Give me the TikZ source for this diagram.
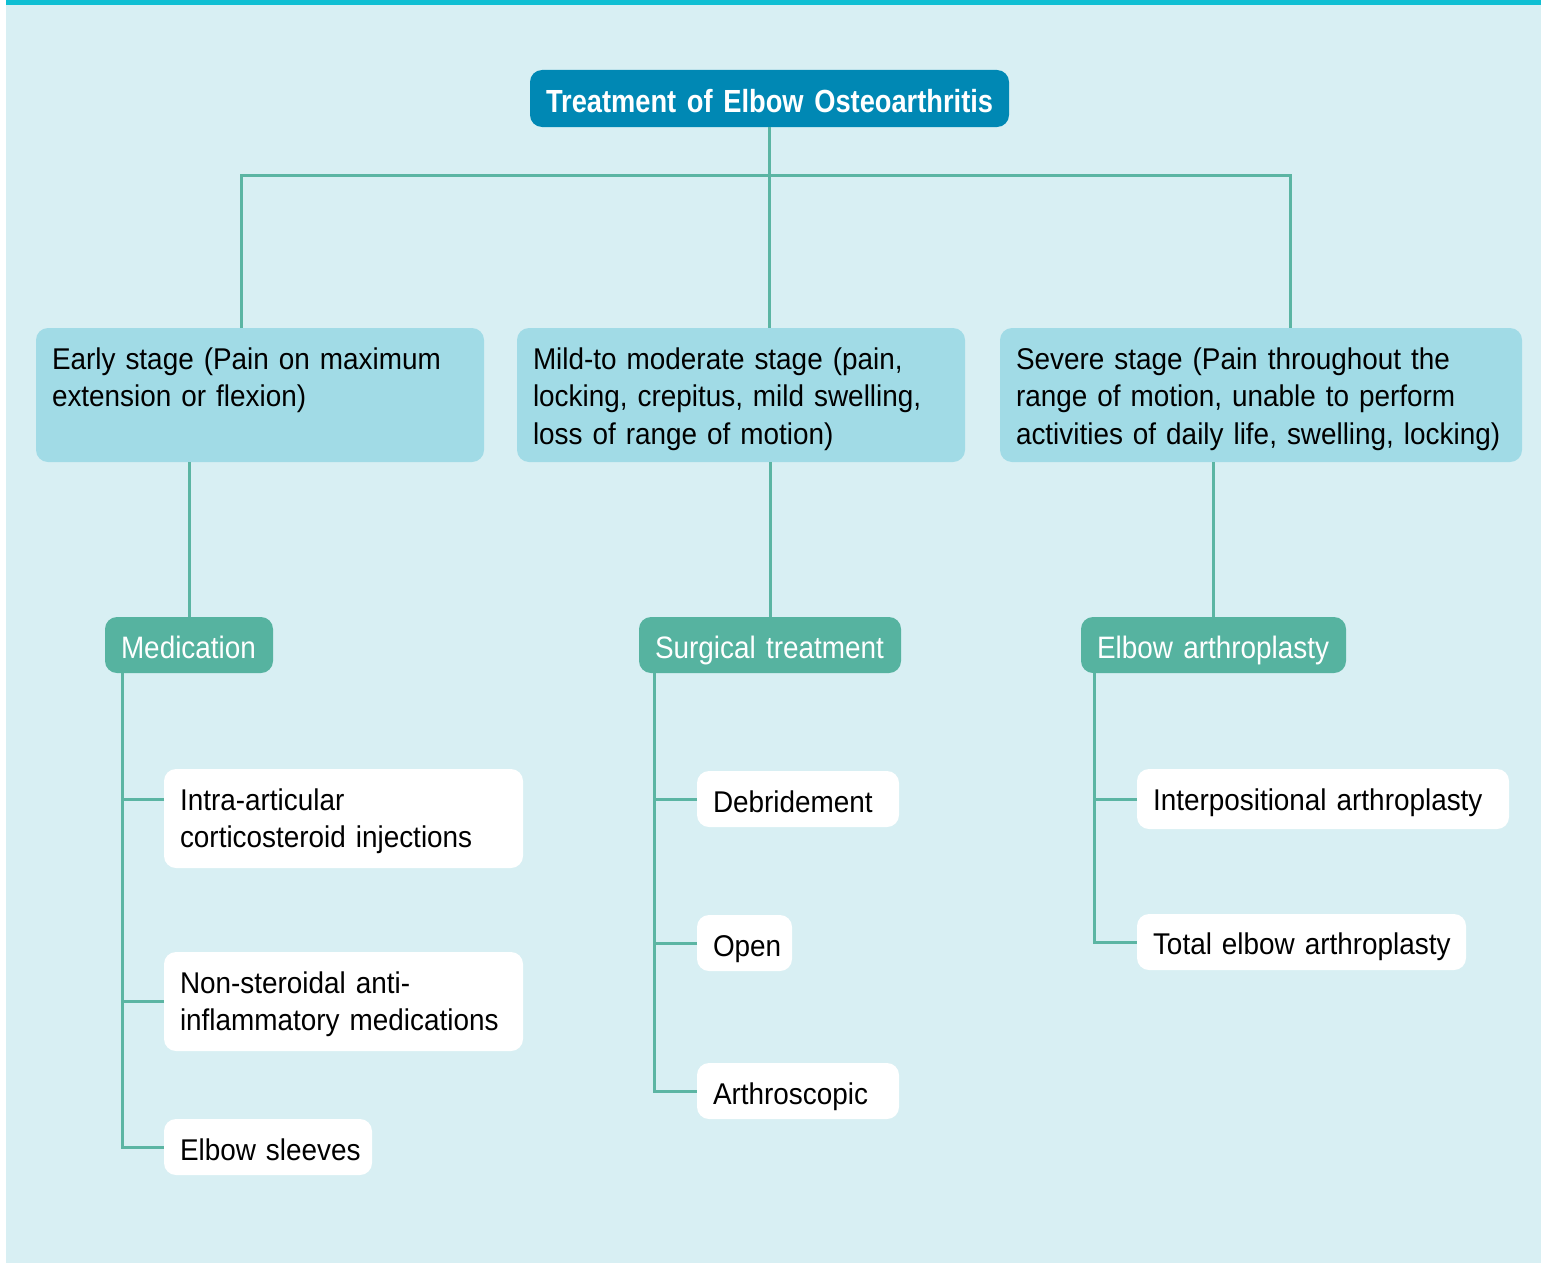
\documentclass[tikz,border=0pt]{standalone}
\usepackage{fontspec}
\setmainfont{Liberation Sans}[FakeStretch=0.93]
\newfontfamily\titlefont{Liberation Sans}[FakeStretch=0.852]
\newfontfamily\greenfont{Liberation Sans}[FakeStretch=0.90]
\definecolor{bgblue}{HTML}{D8EFF3}
\definecolor{topbar}{HTML}{0FBFD3}
\definecolor{titleblue}{HTML}{0088B4}
\definecolor{stageblue}{HTML}{A1DBE6}
\definecolor{greenbox}{HTML}{56B3A0}
\definecolor{linegreen}{HTML}{5BB5A3}
\begin{document}
\begin{tikzpicture}[x=1pt,y=-1pt,
  base/.style={anchor=north west, rounded corners=12pt, inner xsep=16pt, inner ysep=0pt, outer sep=0pt, align=left},
  titlebox/.style={base, fill=titleblue, text=white, font=\titlefont\bfseries\fontsize{32}{38}\selectfont},
  stagebox/.style={base, fill=stageblue, text=black, font=\fontsize{30}{37.8}\selectfont},
  greenbx/.style={base, fill=greenbox, text=white, font=\greenfont\fontsize{31}{37}\selectfont},
  whitebox/.style={base, fill=white, text=black, font=\fontsize{30}{37.2}\selectfont},
  conn/.style={draw=linegreen, line width=3pt}]
\useasboundingbox (0,0) rectangle (1544,1263);
\fill[white] (0,0) rectangle (1544,1263);
\fill[bgblue] (6,5) rectangle (1541,1263);
\fill[topbar] (6,0) rectangle (1541,5);

% title
\node[titlebox, minimum width=479pt, text width=447pt, text height=42pt, text depth=15pt] (title) at (530,70) {\mbox{Treatment of Elbow Osteoarthritis}};

% stage boxes
\node[stagebox, minimum width=448pt, text width=416pt, text height=41pt, text depth=93pt] (s1) at (36,328)
  {\mbox{Early stage (Pain on maximum}\\\mbox{extension or flexion)}};
\node[stagebox, minimum width=448pt, text width=416pt, text height=41pt, text depth=93pt] (s2) at (517,328)
  {\mbox{Mild-to moderate stage (pain,}\\\mbox{locking, crepitus, mild swelling,}\\\mbox{loss of range of motion)}};
\node[stagebox, minimum width=522pt, text width=490pt, text height=41pt, text depth=93pt] (s3) at (1000,328)
  {\mbox{Severe stage (Pain throughout the}\\\mbox{range of motion, unable to perform}\\\mbox{activities of daily life, swelling, locking)}};

% green boxes
\node[greenbx, minimum width=168pt, text width=136pt, text height=41pt, text depth=15pt] (med) at (105,617) {\mbox{Medication}};
\node[greenbx, minimum width=262pt, text width=230pt, text height=41pt, text depth=15pt] (surg) at (639,617) {\mbox{Surgical treatment}};
\node[greenbx, minimum width=265pt, text width=233pt, text height=41pt, text depth=15pt] (arth) at (1081,617) {\mbox{Elbow arthroplasty}};

% white boxes
\node[whitebox, minimum width=359pt, text width=327pt, text height=41pt, text depth=58pt] (intra) at (164,769)
  {\mbox{Intra-articular}\\\mbox{corticosteroid injections}};
\node[whitebox, minimum width=359pt, text width=327pt, text height=41pt, text depth=58pt] (nsaid) at (164,952)
  {\mbox{Non-steroidal anti-}\\\mbox{inflammatory medications}};
\node[whitebox, minimum width=208pt, text width=176pt, text height=41pt, text depth=15pt] (sleeve) at (164,1119) {\mbox{Elbow sleeves}};

\node[whitebox, minimum width=202pt, text width=170pt, text height=41pt, text depth=15pt] (debr) at (697,771) {\mbox{Debridement}};
\node[whitebox, minimum width=95pt, text width=63pt, text height=41pt, text depth=15pt] (open) at (697,915) {\mbox{Open}};
\node[whitebox, minimum width=202pt, text width=170pt, text height=41pt, text depth=15pt] (arthro) at (697,1063) {\mbox{Arthroscopic}};

\node[whitebox, minimum width=372pt, text width=340pt, text height=41pt, text depth=19pt] (interp) at (1137,769) {\mbox{Interpositional arthroplasty}};
\node[whitebox, minimum width=329pt, text width=297pt, text height=40pt, text depth=16pt] (total) at (1137,914) {\mbox{Total elbow arthroplasty}};

% connectors: top level
\coordinate (hub) at ([yshift=-48pt]title.south);
\draw[conn] (title.south) -- (title.south |- s2.north);
\draw[conn] ([xshift=-19pt]s1.north) |- (hub) -| ([xshift=29pt]s3.north);

% stage to category
\draw[conn] (med.north) -- (med.north |- s1.south);
\draw[conn] (surg.north) -- (surg.north |- s2.south);
\draw[conn] (arth.north) -- (arth.north |- s3.south);

% medication tree
\coordinate (mt) at ([xshift=17pt]med.south west);
\coordinate (ib) at ([yshift=19pt]intra.west);
\draw[conn] (mt) |- (sleeve.west);
\draw[conn] (ib) -- (ib -| mt);
\draw[conn] (nsaid.west) -- (nsaid.west -| mt);

% surgical tree
\coordinate (st) at ([xshift=15pt]surg.south west);
\draw[conn] (st) |- (arthro.west);
\draw[conn] (debr.west) -- (debr.west -| st);
\draw[conn] (open.west) -- (open.west -| st);

% arthroplasty tree
\coordinate (at) at ([xshift=13pt]arth.south west);
\draw[conn] (at) |- (total.west);
\draw[conn] (interp.west) -- (interp.west -| at);
\end{tikzpicture}
\end{document}
